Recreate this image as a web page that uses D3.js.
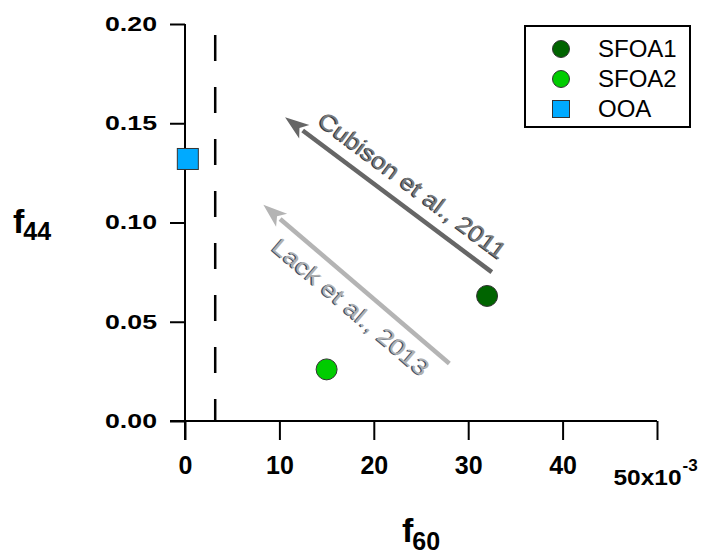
<!DOCTYPE html>
<html>
<head>
<meta charset="utf-8">
<script src="https://cdn.jsdelivr.net/npm/d3@7"></script>
<style>
  body { margin: 0; background: #fff; }
  svg { display: block; font-family: "Liberation Sans", Arial, sans-serif; }
</style>
</head>
<body>
<div id="chart"></div>
<script>
// data (f60 in units of 10^-3)
const seriesNames = ["SFOA1", "SFOA2", "OOA"];
const f60Values = [32.0, 15.0, 0.3];
const f44Values = [0.063, 0.026, 0.132];
const seriesColors = ["#006400", "#00cc00", "#00aaff"];
const seriesShapes = ["circle", "circle", "square"];

const xTicks = [0, 10, 20, 30, 40, 50];
const yTicks = [0.00, 0.05, 0.10, 0.15, 0.20];

// reference arrows (from tail to tip)
const arrowLabels = ["Cubison et al., 2011", "Lack et al., 2013"];
const arrowTail60 = [32.5, 28.0];
const arrowTail44 = [0.075, 0.029];
const arrowTip60 = [10.6, 8.3];
const arrowTip44 = [0.153, 0.109];
const arrowColors = ["#666666", "#b4b4b4"];

// f60 threshold line
const thresholdF60 = 3.2;
const thresholdTop = 0.1945;

const width = 703, height = 554;

const svg = d3.select("#chart").append("svg")
    .attr("width", width)
    .attr("height", height);

const x = d3.scaleLinear().domain([0, 50]).range([185, 657]);
const y = d3.scaleLinear().domain([0, 0.20]).range([421, 24]);

// y axis
const yAxis = svg.append("g")
    .attr("transform", `translate(${x(0)},0)`)
    .call(d3.axisLeft(y).tickValues(yTicks).tickSize(15).tickSizeOuter(0)
        .tickFormat(d3.format(".2f")).tickPadding(13));
yAxis.select(".domain").attr("stroke-width", 2).attr("d", `M0,${y(0.20)}V${y(0) + 19}`);
yAxis.selectAll(".tick line").attr("stroke-width", 2);
yAxis.selectAll(".tick text")
    .attr("font-size", 20)
    .attr("font-weight", "bold")
    .attr("fill", "#000")
    .attr("textLength", 52)
    .attr("lengthAdjust", "spacingAndGlyphs");

// x axis
const xAxis = svg.append("g")
    .attr("transform", `translate(0,${y(0)})`)
    .call(d3.axisBottom(x).tickValues(xTicks).tickSize(19).tickSizeOuter(0));
xAxis.select(".domain").attr("stroke-width", 2).attr("d", `M${x(0) - 15},0H${x(50)}`);
xAxis.selectAll(".tick line").attr("stroke-width", 2);
xAxis.selectAll(".tick text").remove();
xAxis.selectAll(".tick").filter(d => d < 50).append("text")
    .attr("y", 53)
    .attr("text-anchor", "middle")
    .attr("font-size", 25)
    .attr("font-weight", "bold")
    .attr("fill", "#000")
    .text(d => d);
const lastTick = xAxis.selectAll(".tick").filter(d => d === 50);
lastTick.append("text")
    .attr("x", -44)
    .attr("y", 64)
    .attr("text-anchor", "start")
    .attr("font-size", 22)
    .attr("font-weight", "bold")
    .attr("fill", "#000")
    .attr("textLength", 68)
    .attr("lengthAdjust", "spacingAndGlyphs")
    .text("50x10");
lastTick.append("text")
    .attr("x", 25)
    .attr("y", 50)
    .attr("text-anchor", "start")
    .attr("font-size", 17)
    .attr("font-weight", "bold")
    .attr("fill", "#000")
    .text("-3");

// dashed threshold line
svg.append("line")
    .attr("x1", x(thresholdF60)).attr("x2", x(thresholdF60))
    .attr("y1", y(thresholdTop)).attr("y2", y(0))
    .attr("stroke", "#000")
    .attr("stroke-width", 2.5)
    .attr("stroke-dasharray", "26,26");

// arrows with labels
const headLen = 24, headHalf = 8.5;
arrowLabels.forEach((label, i) => {
    const x1 = x(arrowTail60[i]), y1 = y(arrowTail44[i]);
    const x2 = x(arrowTip60[i]), y2 = y(arrowTip44[i]);
    const dx = x2 - x1, dy = y2 - y1;
    const len = Math.hypot(dx, dy);
    const ux = dx / len, uy = dy / len;
    const bx = x2 - ux * headLen, by = y2 - uy * headLen;
    svg.append("line")
        .attr("x1", x1).attr("y1", y1).attr("x2", bx + ux * 2).attr("y2", by + uy * 2)
        .attr("stroke", arrowColors[i])
        .attr("stroke-width", 4.5);
    svg.append("path")
        .attr("d", `M${x2},${y2}L${bx - uy * headHalf},${by + ux * headHalf}L${bx + ux * 6},${by + uy * 6}L${bx + uy * headHalf},${by - ux * headHalf}Z`)
        .attr("fill", arrowColors[i]);

    // label, rotated to follow the arrow
    const angle = Math.atan2(y1 - y2, x1 - x2) * 180 / Math.PI;
    const mx = (x1 + x2) / 2, my = (y1 + y2) / 2;
    const g = svg.append("g").attr("transform", `translate(${mx},${my}) rotate(${angle})`);
    const along = i === 0 ? 14 : 11;
    const across = i === 0 ? -14 : 29;
    const tLen = i === 0 ? 228 : 198;
    const shadow = i === 0 ? "#2f3a48" : "#3f4f66";
    const fill = i === 0 ? "#7a7a7a" : "#b0b0b0";
    g.append("text")
        .attr("x", along - 1).attr("y", across + 1.2)
        .attr("text-anchor", "middle")
        .attr("font-size", 23)
        .attr("textLength", tLen)
        .attr("lengthAdjust", "spacingAndGlyphs")
        .attr("fill", shadow)
        .text(label);
    g.append("text")
        .attr("x", along).attr("y", across)
        .attr("text-anchor", "middle")
        .attr("font-size", 23)
        .attr("textLength", tLen)
        .attr("lengthAdjust", "spacingAndGlyphs")
        .attr("fill", fill)
        .text(label);
});

// points
seriesNames.forEach((name, i) => {
    const px = x(f60Values[i]), py = y(f44Values[i]);
    if (seriesShapes[i] === "circle") {
        svg.append("circle")
            .attr("cx", px).attr("cy", py).attr("r", 10.5)
            .attr("fill", seriesColors[i])
            .attr("stroke", "#333").attr("stroke-width", 1);
    } else {
        svg.append("rect")
            .attr("x", px - 10.5).attr("y", py - 10.5)
            .attr("width", 21).attr("height", 21)
            .attr("fill", seriesColors[i])
            .attr("stroke", "#333").attr("stroke-width", 1);
    }
});

// legend
const legend = svg.append("g").attr("transform", "translate(525,26)");
legend.append("rect")
    .attr("width", 165).attr("height", 101)
    .attr("fill", "#fff")
    .attr("stroke", "#000").attr("stroke-width", 2);
seriesNames.forEach((name, i) => {
    const ly = 23 + i * 30;
    if (seriesShapes[i] === "circle") {
        legend.append("circle")
            .attr("cx", 36).attr("cy", ly).attr("r", 8.5)
            .attr("fill", seriesColors[i])
            .attr("stroke", "#333").attr("stroke-width", 1);
    } else {
        legend.append("rect")
            .attr("x", 27.5).attr("y", ly - 8.5)
            .attr("width", 17).attr("height", 17)
            .attr("fill", seriesColors[i])
            .attr("stroke", "#333").attr("stroke-width", 1);
    }
    legend.append("text")
        .attr("x", 73).attr("y", ly + 8)
        .attr("font-size", 24)
        .attr("fill", "#000")
        .text(name);
});

// axis titles
const yTitle = svg.append("text")
    .attr("x", 13).attr("y", 233)
    .attr("font-weight", "bold")
    .attr("font-size", 34)
    .attr("fill", "#000");
yTitle.append("tspan").text("f");
yTitle.append("tspan").attr("font-size", 25).attr("dy", 7).attr("dx", -1).text("44");

const xTitle = svg.append("text")
    .attr("x", 402).attr("y", 542)
    .attr("font-weight", "bold")
    .attr("font-size", 34)
    .attr("fill", "#000");
xTitle.append("tspan").text("f");
xTitle.append("tspan").attr("font-size", 25).attr("dy", 8).attr("dx", -1).text("60");
</script>
</body>
</html>
